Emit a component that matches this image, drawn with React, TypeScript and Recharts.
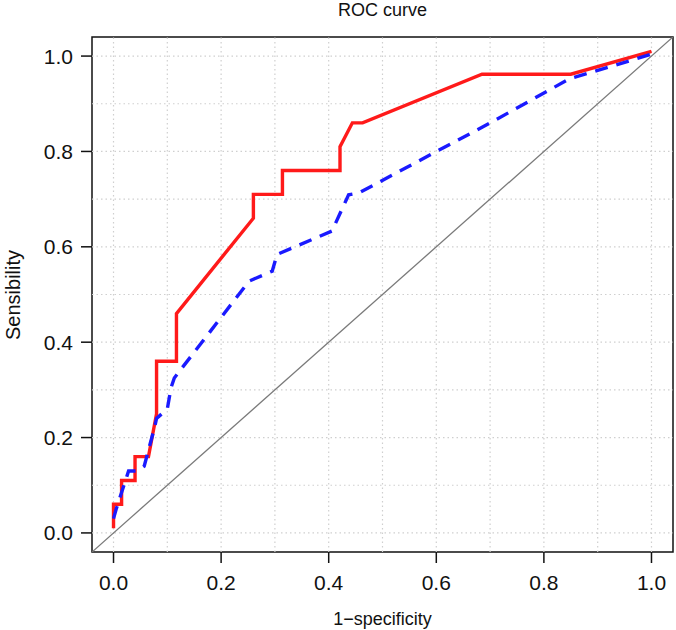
import { LineChart, Line, XAxis, YAxis, ReferenceLine, ReferenceArea } from 'recharts';

// axis ticks and grid positions
const xTicks = [0, 0.2, 0.4, 0.6, 0.8, 1.0];
const yTicks = [0, 0.2, 0.4, 0.6, 0.8, 1.0];
const gridValues = [0, 0.1, 0.2, 0.3, 0.4, 0.5, 0.6, 0.7, 0.8, 0.9, 1.0];
const axisRange = [-0.04, 1.04];

// red ROC curve (solid)
const redFpr = [0, 0, 0.015, 0.015, 0.04, 0.04, 0.065, 0.08, 0.08, 0.117, 0.117, 0.26, 0.26, 0.314, 0.314, 0.421, 0.421, 0.444, 0.463, 0.685, 0.85, 1.0];
const redTpr = [0.01, 0.06, 0.06, 0.11, 0.11, 0.16, 0.16, 0.25, 0.36, 0.36, 0.46, 0.66, 0.71, 0.71, 0.76, 0.76, 0.81, 0.86, 0.86, 0.962, 0.962, 1.01];

// blue ROC curve (dashed)
const blueFpr = [0, 0.005, 0.028, 0.045, 0.057, 0.076, 0.08, 0.1, 0.107, 0.113, 0.252, 0.295, 0.304, 0.406, 0.437, 0.456, 0.702, 0.847, 1.0];
const blueTpr = [0.03, 0.05, 0.13, 0.13, 0.14, 0.22, 0.24, 0.26, 0.305, 0.325, 0.528, 0.549, 0.584, 0.633, 0.709, 0.713, 0.861, 0.952, 1.004];

const redData = redFpr.map((x, i) => ({ x, y: redTpr[i] }));
const blueData = blueFpr.map((x, i) => ({ x, y: blueTpr[i] }));
const diagData = axisRange.map((v) => ({ x: v, y: v }));

const font = "'Liberation Sans', Arial, Helvetica, sans-serif";
const tickStyle = { fontSize: 21, fill: '#111', fontFamily: font };
const labelStyle = { fontSize: 18, fill: '#111', fontFamily: font };
const fmt = (v: number) => v.toFixed(1);

export default function App() {
  return (
    <div style={{ position: 'absolute', left: 0, top: 0, width: 676, height: 630, background: '#fff' }}>
      <div
        style={{
          position: 'absolute',
          left: 92,
          width: 581,
          top: 0,
          textAlign: 'center',
          fontFamily: font,
          fontSize: 18,
          color: '#111',
        }}
      >
        ROC curve
      </div>
      <LineChart width={676} height={630} margin={{ top: 37, right: 3, bottom: 0, left: 0 }}>
        <XAxis
          type="number"
          dataKey="x"
          domain={axisRange}
          ticks={xTicks}
          tickFormatter={fmt}
          allowDataOverflow
          height={78}
          axisLine={false}
          tickSize={11}
          tickMargin={12}
          tickLine={{ stroke: '#111', strokeWidth: 1.5 }}
          tick={tickStyle}
          label={{ value: '1\u2212specificity', position: 'insideBottom', offset: 5, style: labelStyle }}
        />
        <YAxis
          type="number"
          dataKey="y"
          domain={axisRange}
          ticks={yTicks}
          tickFormatter={fmt}
          allowDataOverflow
          width={92}
          axisLine={false}
          tickSize={11}
          tickMargin={8}
          tickLine={{ stroke: '#111', strokeWidth: 1.5 }}
          tick={tickStyle}
          label={{
            content: () => (
              <text
                x={13}
                y={295}
                transform="rotate(-90 13 295)"
                textAnchor="middle"
                dominantBaseline="central"
                style={{ ...labelStyle, fontSize: 20 }}
              >
                Sensibility
              </text>
            ),
          }}
        />
        {gridValues.map((v) => (
          <ReferenceLine key={`gx${v}`} x={v} stroke="#cfcfcf" strokeWidth={1.2} strokeDasharray="1.5 3" />
        ))}
        {gridValues.map((v) => (
          <ReferenceLine key={`gy${v}`} y={v} stroke="#cfcfcf" strokeWidth={1.2} strokeDasharray="1.5 3" />
        ))}
        <Line
          data={diagData}
          dataKey="y"
          stroke="#7a7a7a"
          strokeWidth={1.3}
          dot={false}
          isAnimationActive={false}
        />
        <Line
          data={redData}
          dataKey="y"
          stroke="#ff1a1a"
          strokeWidth={3.4}
          dot={false}
          strokeLinejoin="miter"
          isAnimationActive={false}
        />
        <Line
          data={blueData}
          dataKey="y"
          stroke="#1a1aff"
          strokeWidth={3.4}
          strokeDasharray="13 9"
          dot={false}
          isAnimationActive={false}
        />
        <ReferenceArea
          x1={axisRange[0]}
          x2={axisRange[1]}
          y1={axisRange[0]}
          y2={axisRange[1]}
          fill="none"
          fillOpacity={0}
          stroke="#111"
          strokeWidth={1.5}
        />
      </LineChart>
    </div>
  );
}
